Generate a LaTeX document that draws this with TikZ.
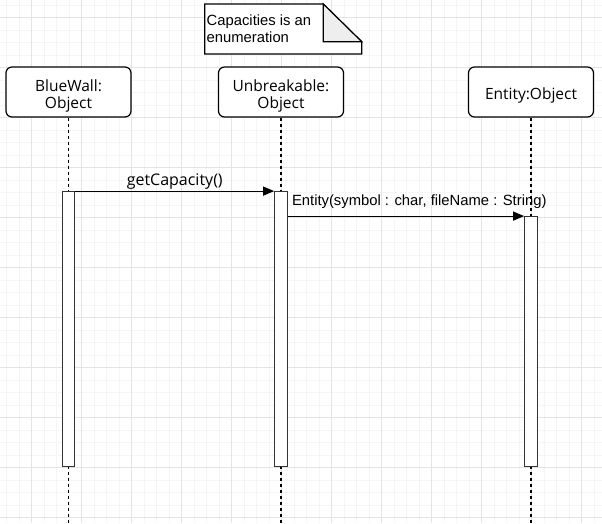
\documentclass[tikz,border=0pt]{standalone}
\usepackage{fontspec}
\setmainfont{Liberation Sans}
\newfontfamily\objfont{Open Sans}
\usetikzlibrary{arrows.meta,positioning}

\definecolor{minorgrid}{HTML}{F5F5F5}
\definecolor{majorgrid}{HTML}{E4E4E4}
\definecolor{foldgray}{HTML}{EEEEEE}

\begin{document}
\begin{tikzpicture}[x=1pt,y=-1pt,
    obj/.style={draw,line width=1.2pt,rounded corners=6pt,fill=white,
      minimum width=125pt,minimum height=50pt},
    objtext/.style={align=center,inner sep=0pt,yshift=-3.5pt,
      font=\objfont\fontsize{15.5}{17}\selectfont},
    bar/.style={draw=black!80,line width=1.2pt,fill=white,inner sep=0pt,
      minimum width=12.5pt},
    lifeline/.style={line width=1.2pt,dash pattern=on 3pt off 3pt},
    msg/.style={line width=1.2pt,-{Triangle[length=11pt,width=9pt]}},
    lbl/.style={font=\fontsize{14.8}{17}\selectfont,inner sep=1pt}]
  \useasboundingbox[fill=white] (0,0) rectangle (602,523);

  % grid
  \foreach \gx in {0,...,47} \draw[minorgrid] ({6.3+12.5*\gx},0) -- ++(0,523);
  \foreach \gy in {0,...,41} \draw[minorgrid] (0,{4.8+12.5*\gy}) -- ++(602,0);
  \foreach \gx in {0,...,11} \draw[majorgrid] ({31.3+50*\gx},0) -- ++(0,523);
  \foreach \gy in {0,...,10} \draw[majorgrid] (0,{17.3+50*\gy}) -- ++(602,0);

  % note
  \draw[line width=1.2pt,fill=white] (204.7,4) -- (323.3,4) -- (361.7,41.7)
    -- (361.7,54) -- (204.7,54) -- cycle;
  \draw[line width=1.2pt,fill=foldgray] (323.3,4) -- (323.3,41.7) -- (361.7,41.7) -- cycle;
  \node[lbl,anchor=north west,align=left] (note) at (205.5,13.5)
    {Capacities is an\\enumeration};

  % objects
  \node[obj,label={[objtext]center:{BlueWall:\\Object}}] (bluewall) at (68.5,92) {};
  \node[obj,label={[objtext]center:{Unbreakable:\\Object}}] (unbreak) at (281,92) {};
  \node[obj,label={[objtext]center:{Entity:Object}}] (entity) at (531,92) {};

  % lifelines
  \foreach \o in {bluewall,unbreak,entity}
    \draw[lifeline] (\o.south) -- (\o.south |- 0,523);

  % activations
  \node[bar,minimum height=275pt] (actbw) at (68.5,329.2) {};
  \node[bar,minimum height=275pt] (actub) at (281,329.2) {};
  \node[bar,minimum height=250pt] (actent) at (531,341.7) {};

  % messages
  \draw[msg] (actbw.north east) -- (actub.north west)
    node[lbl,midway,above=0pt,font=\objfont\fontsize{16}{17}\selectfont] {getCapacity()};
  \draw[msg] (actub.east |- actent.north) coordinate (m2) -- (actent.north west);
  \node[lbl,anchor=south west] (m2lbl) at ([xshift=3pt,yshift=6pt]m2)
    {Entity(symbol : char, fileName : String)};
\end{tikzpicture}
\end{document}
